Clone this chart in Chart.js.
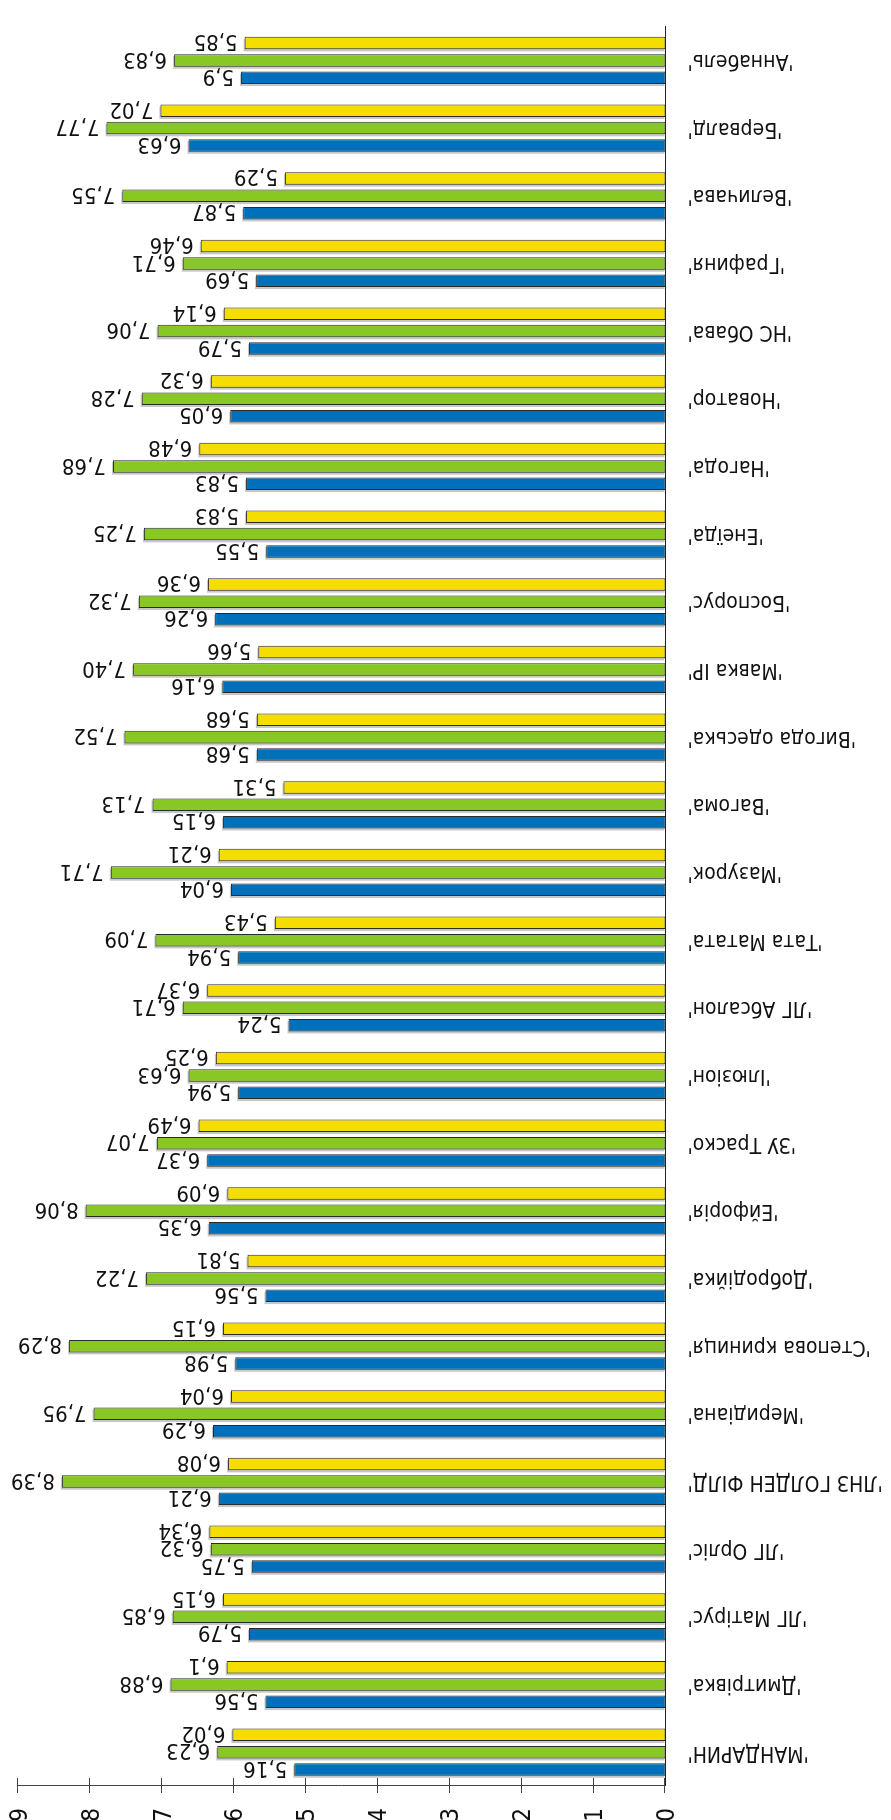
<!DOCTYPE html>
<html>
<head>
<meta charset="utf-8">
<script src="https://cdn.jsdelivr.net/npm/chart.js@4.4.1/dist/chart.umd.min.js"></script>
<style>
  html, body { margin: 0; padding: 0; background: #fff; overflow: hidden; width: 891px; height: 1820px; }
  #wrap { position: absolute; left: 0; top: 0; width: 891px; height: 1830px; transform: rotate(180deg); transform-origin: 50% 50%; }
  canvas { display: block; }
</style>
</head>
<body>
<div id="wrap"><canvas id="c" width="891" height="1830"></canvas></div>
<script>
const categories = [
  "'МАНДАРИН'", "'Дмитрівка'", "'ЛГ Матірус'", "'ЛГ Орліс'", "'ЛНЗ ГОЛДЕН ФІЛД'",
  "'Меридіана'", "'Степова криниця'", "'Добродійка'", "'Ейфорія'", "'ЗУ Траско'",
  "'Ілюзіон'", "'ЛГ Абсалон'", "'Тата Матата'", "'Мазурок'", "'Вагома'",
  "'Вигода одеська'", "'Мавка ІР'", "'Боспорус'", "'Енеїда'", "'Нагода'",
  "'Новатор'", "'НС Обава'", "'Графиня'", "'Величава'", "'Бервалд'", "'Аннабель'"
];
const blueLabels = ["5,16","5,56","5,79","5,75","6,21","6,29","5,98","5,56","6,35","6,37","5,94","5,24","5,94","6,04","6,15","5,68","6,16","6,26","5,55","5,83","6,05","5,79","5,69","5,87","6,63","5,9"];
const greenLabels = ["6,23","6,88","6,85","6,32","8,39","7,95","8,29","7,22","8,06","7,07","6,63","6,71","7,09","7,71","7,13","7,52","7,40","7,32","7,25","7,68","7,28","7,06","6,71","7,55","7,77","6,83"];
const yellowLabels = ["6,02","6,1","6,15","6,34","6,08","6,04","6,15","5,81","6,09","6,49","6,25","6,37","5,43","6,21","5,31","5,68","5,66","6,36","5,83","6,48","6,32","6,14","6,46","5,29","7,02","5,85"];
const xTicks = [0,1,2,3,4,5,6,7,8,9];

const toNum = s => parseFloat(s.replace(',', '.'));
const blueValues = blueLabels.map(toNum);
const greenValues = greenLabels.map(toNum);
const yellowValues = yellowLabels.map(toNum);

const FONT = "'DejaVu Sans Condensed', 'DejaVu Sans', sans-serif";

const shadowPlugin = {
  id: 'shadow',
  beforeDatasetsDraw(chart) {
    const ctx = chart.ctx;
    ctx.save();
    ctx.fillStyle = 'rgba(0,0,0,0.22)';
    chart.data.datasets.forEach((ds, i) => {
      chart.getDatasetMeta(i).data.forEach(el => {
        const h = el.height;
        const x0 = Math.min(el.base, el.x) + 1;
        const x1 = Math.max(el.base, el.x) + 1;
        ctx.fillRect(x0, el.y - h / 2 - 2, x1 - x0, h);
      });
    });
    ctx.restore();
  }
};

const valueLabelPlugin = {
  id: 'valueLabels',
  afterDatasetsDraw(chart) {
    const ctx = chart.ctx;
    const texts = [blueLabels, greenLabels, yellowLabels];
    const size = 22;
    ctx.save();
    ctx.font = size + 'px ' + FONT;
    ctx.fillStyle = '#111';
    ctx.textAlign = 'left';
    ctx.textBaseline = 'alphabetic';
    chart.data.datasets.forEach((ds, i) => {
      chart.getDatasetMeta(i).data.forEach((el, j) => {
        ctx.fillText(texts[i][j], el.x + 7, el.y + size * 0.36);
      });
    });
    ctx.restore();
  }
};

const xAxisPlugin = {
  id: 'xAxisMarks',
  afterDraw(chart) {
    const sc = chart.scales.x;
    const ctx = chart.ctx;
    const y = chart.chartArea.top;
    const size = 24;
    ctx.save();
    ctx.strokeStyle = '#444';
    ctx.lineWidth = 1;
    sc.ticks.forEach((t, i) => {
      const x = Math.round(sc.getPixelForTick(i)) + 0.5;
      ctx.beginPath();
      ctx.moveTo(x, y - 7);
      ctx.lineTo(x, y + 8);
      ctx.stroke();
    });
    ctx.font = size + 'px ' + FONT;
    ctx.fillStyle = '#111';
    ctx.textAlign = 'right';
    ctx.textBaseline = 'alphabetic';
    sc.ticks.forEach((t, i) => {
      const x = sc.getPixelForTick(i);
      ctx.save();
      ctx.translate(x, y - 22);
      ctx.rotate(Math.PI / 2);
      ctx.fillText(String(t.value), 0, size * 0.36);
      ctx.restore();
    });
    ctx.restore();
  }
};

new Chart(document.getElementById('c'), {
  type: 'bar',
  data: {
    labels: categories,
    datasets: [
      { label: 'blue', data: blueValues, backgroundColor: '#0070BB', borderColor: '#2a2a2a', borderWidth: 1, borderSkipped: false },
      { label: 'green', data: greenValues, backgroundColor: '#88C724', borderColor: '#2a2a2a', borderWidth: 1, borderSkipped: false },
      { label: 'yellow', data: yellowValues, backgroundColor: '#F5DD00', borderColor: '#2a2a2a', borderWidth: 1, borderSkipped: false }
    ]
  },
  options: {
    indexAxis: 'y',
    responsive: false,
    animation: false,
    categoryPercentage: 0.77,
    barPercentage: 0.72,
    layout: { padding: { top: 0, right: 18, bottom: 13, left: 0 } },
    plugins: { legend: { display: false }, tooltip: { enabled: false } },
    scales: {
      x: {
        position: 'top',
        min: 0, max: 9,
        afterBuildTicks(scale) { scale.ticks = xTicks.map(v => ({ value: v })); },
        afterFit(scale) { scale.height = 44; },
        grid: { display: false },
        border: { display: true, color: '#444', width: 1 },
        ticks: { display: false }
      },
      y: {
        afterFit(scale) { scale.width = 225.5; },
        grid: { display: false },
        border: { display: true, color: '#222', width: 1 },
        ticks: { color: '#111', padding: 14, autoSkip: false, font: { family: FONT, size: 21 } }
      }
    }
  },
  plugins: [shadowPlugin, valueLabelPlugin, xAxisPlugin]
});
</script>
</body>
</html>
